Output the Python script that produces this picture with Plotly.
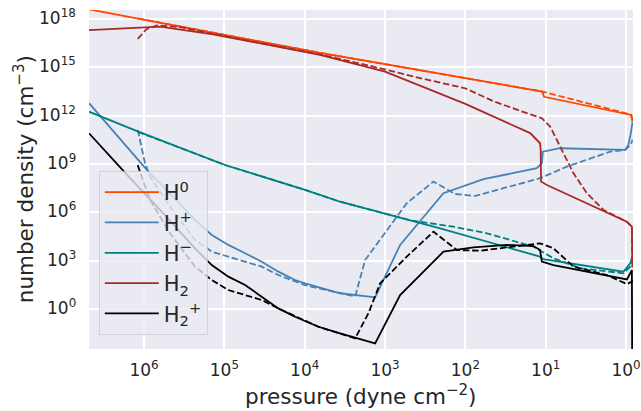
import numpy as np
import plotly.graph_objects as go

# ---------------- data (log10 values) ----------------
# H0
h0_logp = [6.685, 6.0, 5.0, 4.0, 3.808, 3.0, 2.0, 1.045, 1.02, 0.5, 0.0, -0.065, -0.08]
h0_logn = [18.6, 17.96, 17.0, 16.08, 15.9, 15.2, 14.35, 13.5, 13.17, 12.65, 12.12, 12.05, 11.63]
h0d_logp = [6.078, 5.0, 4.0, 3.808, 3.0, 2.0, 1.045, 0.5, 0.0, -0.065, -0.08]
h0d_logn = [18.04, 17.0, 16.08, 15.9, 15.2, 14.35, 13.5, 12.8, 12.14, 12.06, 11.7]

# H+
hp_logp = [6.685, 6.153, 5.946, 5.76, 5.365, 5.157, 4.950, 4.742, 4.534, 4.328, 4.120, 3.995,
           3.559, 3.123, 2.812, 2.273, 1.775, 1.110, 1.048, 1.035, 0.82, 0.01, -0.03, -0.06, -0.08]
hp_logn = [12.78, 9.77, 8.53, 7.60, 5.53, 4.60, 3.98, 3.46, 2.94, 2.32, 1.80, 1.59,
           0.98, 0.73, 3.98, 7.19, 8.06, 8.74, 9.05, 9.77, 9.98, 9.88, 10.2, 10.9, 11.6]
hpd_logp = [6.078, 6.029, 5.988, 5.925, 5.676, 5.365, 5.157, 4.950, 4.742, 4.534, 4.328, 4.120,
            3.995, 3.829, 3.372, 3.248, 3.061, 2.729, 2.397, 2.127, 1.878, 1.069, 0.736, 0.197,
            0.01, -0.06, -0.08]
hpd_logn = [11.12, 9.88, 9.05, 8.22, 6.35, 4.29, 3.56, 3.25, 2.94, 2.63, 2.11, 1.69,
            1.48, 1.29, 0.78, 3.04, 4.29, 6.57, 7.91, 7.14, 7.02, 8.12, 8.84, 9.77,
            9.88, 10.2, 10.5]

# H-
hm_logp = [6.685, 6.071, 4.991, 3.995, 3.559, 2.314, 1.07, 1.03, 0.031, -0.052, -0.08]
hm_logn = [12.25, 11.01, 8.94, 7.39, 6.66, 5.01, 3.25, 3.1, 2.32, 2.84, 3.25]
hmd_logp = [6.078, 4.991, 3.995, 3.559, 2.688, 2.148, 1.732, 1.151, 0.903, 0.57, 0.03, -0.052, -0.08]
hmd_logn = [11.0, 8.94, 7.39, 6.66, 5.51, 5.11, 4.70, 3.87, 3.15, 2.53, 2.22, 2.63, 3.17]

# H2
h2_logp = [6.685, 5.80, 5.14, 3.81, 3.0, 2.0, 1.193, 1.07, 1.062, 1.058, 0.985, -0.01, -0.073, -0.08]
h2_logn = [17.31, 17.53, 17.05, 15.78, 14.74, 12.73, 10.92, 10.29, 9.88, 7.91, 7.70, 5.42, 5.11, 2.6]
h2d_logp = [6.078, 5.97, 5.84, 5.55, 5.14, 3.81, 3.19, 2.563, 2.0, 1.65, 1.316, 1.047,
            0.944, 0.82, 0.654, 0.487, 0.28, -0.01, -0.073, -0.08]
h2d_logn = [16.77, 17.37, 17.6, 17.5, 17.08, 15.8, 15.1, 14.33, 13.7, 12.9, 12.3, 11.84,
            11.32, 10.08, 8.43, 7.19, 6.15, 5.42, 5.11, 2.6]

# H2+
h2p_logp = [6.685, 6.174, 5.76, 5.365, 5.157, 4.950, 4.742, 4.534, 4.328, 4.120, 3.829, 3.559,
            3.123, 2.812, 2.273, 1.90, 1.483, 1.152, 1.07, 1.048, 0.903, -0.011, -0.073, -0.08]
h2p_logn = [10.91, 8.12, 5.94, 3.77, 2.73, 2.01, 1.49, 0.77, 0.04, -0.48, -1.10, -1.51,
            -2.13, 0.87, 3.56, 3.83, 3.98, 3.91, 3.66, 2.94, 2.73, 1.84, 2.42, -8.0]
h2pd_logp = [6.078, 6.05, 5.925, 5.676, 5.365, 5.157, 4.950, 4.742, 4.534, 4.328, 3.829, 3.372,
             3.207, 3.061, 2.729, 2.397, 2.106, 1.816, 1.483, 1.069, 0.903, 0.654, 0.238,
             -0.011, -0.073, -0.08]
h2pd_logn = [8.94, 8.5, 6.77, 4.70, 2.63, 1.80, 1.18, 0.87, 0.56, 0.04, -1.10, -1.82,
             -0.27, 1.60, 3.25, 4.80, 3.66, 3.62, 3.83, 4.08, 3.77, 2.63, 2.11,
             1.55, 1.70, 2.0]

species = [
    ("H<sup>0</sup>", "#FF4500", h0_logp, h0_logn, h0d_logp, h0d_logn),
    ("H<sup>+</sup>", "#4682B4", hp_logp, hp_logn, hpd_logp, hpd_logn),
    ("H<sup>−</sup>", "#008080", hm_logp, hm_logn, hmd_logp, hmd_logn),
    ("H<sub>2</sub>", "#A52A2A", h2_logp, h2_logn, h2d_logp, h2d_logn),
    ("H<sub>2</sub><sup>+</sup>", "#000000", h2p_logp, h2p_logn, h2pd_logp, h2pd_logn),
]

x_ticks = [6, 5, 4, 3, 2, 1, 0]
y_ticks = [0, 3, 6, 9, 12, 15, 18]
x_title = "pressure (dyne cm<sup>−2</sup>)"
y_title = "number density (cm<sup>−3</sup>)"

FONT = "DejaVu Sans"
TXT = "#262626"

fig = go.Figure()
for i, (name, color, lp, ln, lpd, lnd) in enumerate(species):
    fig.add_trace(go.Scatter(
        x=np.power(10.0, lp), y=np.power(10.0, ln), mode="lines", name=name,
        legendgroup=f"g{i}", line=dict(color=color, width=1.8)))
    fig.add_trace(go.Scatter(
        x=np.power(10.0, lpd), y=np.power(10.0, lnd), mode="lines", name=name,
        legendgroup=f"g{i}", showlegend=False,
        line=dict(color=color, width=1.8, dash="6.5px,2.8px")))

fig.update_layout(
    width=641, height=411,
    margin=dict(l=89, r=8, t=10, b=62, autoexpand=False),
    paper_bgcolor="white", plot_bgcolor="#EAEAF2",
    font=dict(family=FONT, color=TXT, size=17),
    legend=dict(
        x=0.018, y=0.525, xanchor="left", yanchor="top",
        bgcolor="rgba(234,234,242,0.8)", bordercolor="rgba(204,204,204,0.8)", borderwidth=1,
        font=dict(family=FONT, size=21, color=TXT),
        tracegroupgap=0, itemwidth=54,
    ),
    showlegend=True,
)
fig.update_xaxes(
    type="log", range=[6.685, -0.087], automargin=False,
    tickvals=[10.0 ** t for t in x_ticks],
    ticktext=[f"10<sup>{t}</sup>" for t in x_ticks],
    showgrid=True, gridcolor="white", gridwidth=1.5,
    zeroline=False, showline=False, ticks="", ticklabeloverflow="allow",
    ticklabelstandoff=9,
    tickfont=dict(family=FONT, size=17, color=TXT),
)
fig.update_yaxes(
    type="log", range=[-2.48, 18.56], automargin=False,
    tickvals=[10.0 ** t for t in y_ticks],
    showticklabels=False,
    showgrid=True, gridcolor="white", gridwidth=1.5,
    zeroline=False, showline=False, ticks="",
)

# y tick labels (right aligned, like the reference)
for t in y_ticks:
    fig.add_annotation(
        x=0, xref="paper", y=t, yref="y", text=f"10<sup>{t}</sup>",
        xanchor="right", yanchor="middle", xshift=-11, yshift=2, showarrow=False,
        font=dict(family=FONT, size=17, color=TXT))

# axis titles
fig.add_annotation(
    x=0.5, xref="paper", y=-0.135, yref="paper", text=x_title,
    xanchor="center", yanchor="middle", showarrow=False,
    font=dict(family=FONT, size=21.5, color=TXT))
fig.add_annotation(
    x=-0.12, xref="paper", y=0.5, yref="paper", text=y_title, textangle=-90,
    xanchor="center", yanchor="middle", showarrow=False,
    font=dict(family=FONT, size=21.5, color=TXT))

fig.write_html("out.html", config={"displayModeBar": False},
               post_script="document.body.style.margin='0';")
